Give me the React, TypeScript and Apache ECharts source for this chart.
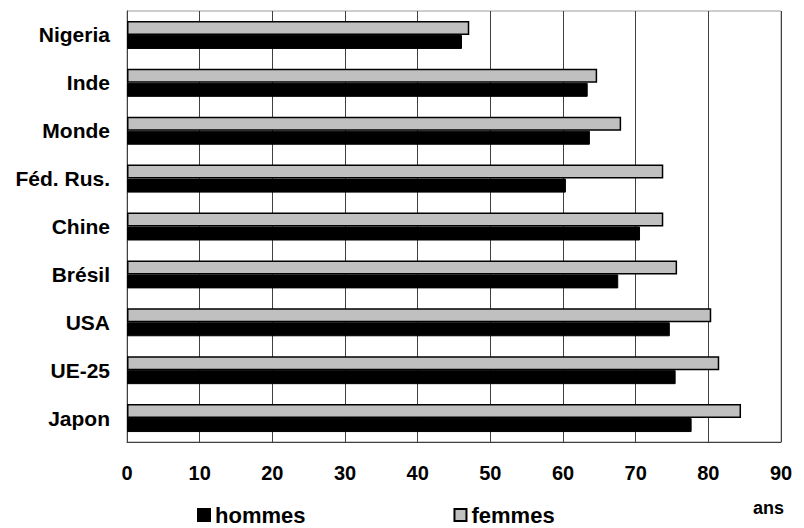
import React, { useEffect, useRef } from "react";
import * as echarts from "echarts";

const categories = ["Nigeria", "Inde", "Monde", "Féd. Rus.", "Chine", "Brésil", "USA", "UE-25", "Japon"];
const hommes = [46.1, 63.4, 63.7, 60.4, 70.6, 67.6, 74.7, 75.5, 77.7];
const femmes = [47.1, 64.7, 68.0, 73.8, 73.8, 75.7, 80.4, 81.5, 84.5];
const seriesNames = ["hommes", "femmes"];
const unitLabel = "ans";

const FONT = "'Liberation Sans', Arial, Helvetica, sans-serif";

export default function App() {
  const ref = useRef<HTMLDivElement>(null);
  useEffect(() => {
    if (!ref.current) return;
    const chart = echarts.init(ref.current, null, { renderer: "svg" });
    chart.setOption({
      animation: false,
      backgroundColor: "#ffffff",
      grid: {
        left: 127,
        right: 23,
        top: 11,
        bottom: 86,
        show: true,
        borderColor: "#9a9a9a",
        borderWidth: 1,
        backgroundColor: "transparent",
      },
      legend: {
        data: seriesNames,
        left: 197,
        top: 504,
        padding: 0,
        itemWidth: 12,
        itemHeight: 12,
        itemGap: 148,
        icon: "rect",
        textStyle: { fontFamily: FONT, fontWeight: "bold", fontSize: 22, color: "#000" },
        selectedMode: false,
      },
      xAxis: {
        type: "value",
        min: 0,
        max: 90,
        interval: 10,
        axisLine: { show: true, lineStyle: { color: "#404040", width: 1 } },
        axisTick: { show: false },
        splitLine: { show: true, lineStyle: { color: "#404040", width: 1 } },
        axisLabel: { fontFamily: FONT, fontWeight: "bold", fontSize: 20, color: "#000", margin: 21 },
      },
      yAxis: {
        type: "category",
        data: categories,
        inverse: true,
        axisLine: { show: true, lineStyle: { color: "#404040", width: 1 } },
        axisTick: { show: false },
        splitLine: { show: false },
        axisLabel: { fontFamily: FONT, fontWeight: "bold", fontSize: 21, color: "#000", margin: 17 },
      },
      graphic: [
        {
          type: "text",
          left: 753,
          top: 499,
          style: { text: unitLabel, fontFamily: FONT, fontWeight: "bold", fontSize: 18, fill: "#000" },
        },
      ],
      series: [
        {
          name: seriesNames[1],
          type: "bar",
          data: femmes,
          barWidth: 14,
          barGap: "0%",
          itemStyle: { color: "#c0c0c0", borderColor: "#000000", borderWidth: 1.5 },
        },
        {
          name: seriesNames[0],
          type: "bar",
          data: hommes,
          barWidth: 14,
          barGap: "0%",
          itemStyle: { color: "#000000", borderColor: "#000000", borderWidth: 1 },
        },
      ],
    });
    return () => chart.dispose();
  }, []);
  return <div ref={ref} style={{ position: "fixed", left: 0, top: 0, width: 804, height: 528 }} />;
}
